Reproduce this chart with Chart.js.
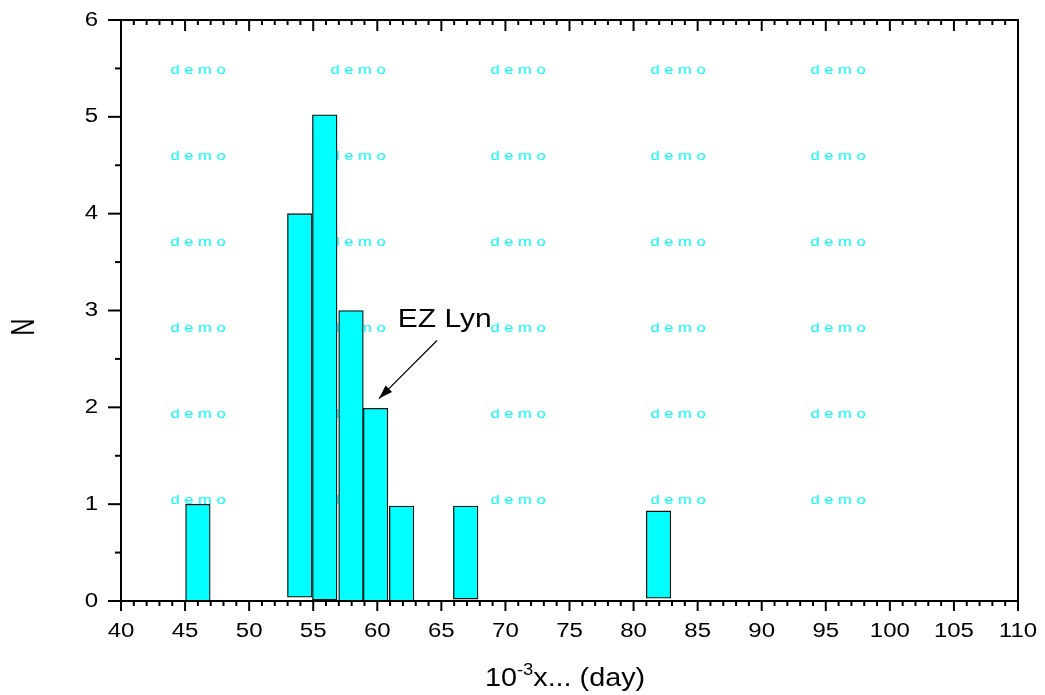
<!DOCTYPE html>
<html>
<head>
<meta charset="utf-8">
<script src="https://cdn.jsdelivr.net/npm/chart.js@4.4.0/dist/chart.umd.min.js"></script>
<style>
  html, body { margin: 0; padding: 0; background: #fff; }
</style>
</head>
<body>
<canvas id="myChart" width="1045" height="695"></canvas>
<script>
// histogram bins (10^-3 x, days) and counts
const binCentres = [46, 53.95, 55.9, 57.95, 59.87, 61.9, 66.9, 81.95];
const binBases   = [0, 0.04, 0.01, -0.01, 0, 0, 0.02, 0.03];
const binCounts  = [1.0, 4.0, 5.02, 3.0, 1.99, 0.98, 0.98, 0.93];

const xTickValues = [40, 45, 50, 55, 60, 65, 70, 75, 80, 85, 90, 95, 100, 105, 110];
const yTickValues = [0, 1, 2, 3, 4, 5, 6];

// annotation, in data units
const noteText  = 'EZ Lyn';
const noteAt    = [61.6, 2.83];
const arrowFrom = [64.66, 2.69];
const arrowTo   = [60.13, 2.09];

const FONT = '"Liberation Sans", Arial, sans-serif';

// the original text is drawn a bit wide, so stretch it horizontally
function wideText(ctx, str, x, y, size, sx, align, baseline) {
    ctx.save();
    ctx.font = size + 'px ' + FONT;
    ctx.textAlign = align;
    ctx.textBaseline = baseline;
    ctx.fillStyle = '#000';
    ctx.translate(x, y);
    ctx.scale(sx, 1);
    ctx.fillText(str, 0, 0);
    ctx.restore();
}

function line(ctx, x1, y1, x2, y2) {
    ctx.beginPath();
    ctx.moveTo(x1, y1);
    ctx.lineTo(x2, y2);
    ctx.stroke();
}

// "demo" watermark grid behind the bars
const watermark = {
    id: 'watermark',
    beforeDatasetsDraw(chart) {
        const { ctx, chartArea: a } = chart;
        ctx.save();
        ctx.font = '12px ' + FONT;
        ctx.fillStyle = '#00ffff';
        ctx.textAlign = 'center';
        ctx.textBaseline = 'middle';
        for (let i = 0; i < 5; i++) {
            for (let j = 0; j < 6; j++) {
                ctx.save();
                ctx.translate(a.left + 77 + 160 * i, a.top + 51 + 86 * j);
                ctx.scale(1.38, 1);
                ctx.fillText('d e m o', 0, 0);
                ctx.restore();
            }
        }
        ctx.restore();
    }
};

// frame, major/minor ticks, labels, titles and the arrow note
const frame = {
    id: 'frame',
    afterDraw(chart) {
        const { ctx, chartArea: a, scales: { x, y } } = chart;
        ctx.save();
        ctx.strokeStyle = '#000';
        ctx.lineWidth = 2;
        ctx.strokeRect(a.left, a.top, a.right - a.left, a.bottom - a.top);

        for (let v = x.min; v <= x.max; v++) {
            const px = x.getPixelForValue(v);
            const major = v % 5 === 0;
            line(ctx, px, a.bottom, px, a.bottom + (major ? 10 : 5));
            line(ctx, px, a.top, px, a.top + (major ? 11 : 5));
        }
        for (let v = y.min; v <= y.max; v += 0.5) {
            const py = y.getPixelForValue(v);
            const major = v % 1 === 0;
            line(ctx, a.left - (major ? 13 : 6), py, a.left, py);
        }

        x.ticks.forEach(t => wideText(ctx, String(t.value), x.getPixelForValue(t.value), a.bottom + 30, 20, 1.2, 'center', 'middle'));
        y.ticks.forEach(t => wideText(ctx, String(t.value), a.left - 23, y.getPixelForValue(t.value), 20, 1.2, 'right', 'middle'));

        // y title, rotated
        ctx.save();
        ctx.translate(25, 327);
        ctx.scale(1.35, 1);
        ctx.rotate(-Math.PI / 2);
        ctx.font = '24px ' + FONT;
        ctx.fillStyle = '#000';
        ctx.textAlign = 'center';
        ctx.textBaseline = 'middle';
        ctx.fillText('N', 0, 0);
        ctx.restore();

        // x title with superscript
        const sx = 1.15;
        const base = 686;
        ctx.font = '25px ' + FONT;
        const w1 = ctx.measureText('10').width * sx;
        const w3 = ctx.measureText('x... (day)').width * sx;
        ctx.font = '16px ' + FONT;
        const w2 = ctx.measureText('-3').width * sx;
        let left = 565 - (w1 + w2 + w3) / 2;
        wideText(ctx, '10', left, base, 25, sx, 'left', 'alphabetic');
        left += w1;
        wideText(ctx, '-3', left, base - 11, 16, sx, 'left', 'alphabetic');
        left += w2;
        wideText(ctx, 'x... (day)', left, base, 25, sx, 'left', 'alphabetic');

        // note + arrow
        wideText(ctx, noteText, x.getPixelForValue(noteAt[0]), y.getPixelForValue(noteAt[1]), 25, 1.2, 'left', 'alphabetic');
        const x1 = x.getPixelForValue(arrowFrom[0]), y1 = y.getPixelForValue(arrowFrom[1]);
        const x2 = x.getPixelForValue(arrowTo[0]), y2 = y.getPixelForValue(arrowTo[1]);
        ctx.lineWidth = 1.2;
        line(ctx, x1, y1, x2, y2);
        const ang = Math.atan2(y2 - y1, x2 - x1);
        ctx.beginPath();
        ctx.moveTo(x2, y2);
        ctx.lineTo(x2 - 14 * Math.cos(ang) + 4.5 * Math.sin(ang), y2 - 14 * Math.sin(ang) - 4.5 * Math.cos(ang));
        ctx.lineTo(x2 - 14 * Math.cos(ang) - 4.5 * Math.sin(ang), y2 - 14 * Math.sin(ang) + 4.5 * Math.cos(ang));
        ctx.closePath();
        ctx.fillStyle = '#000';
        ctx.fill();
        ctx.restore();
    }
};

const config = {
    type: 'bar',
    data: {
        datasets: [{
            data: binCentres.map((c, i) => ({ x: c, y: [binBases[i], binCounts[i]] })),
            backgroundColor: '#00ffff',
            borderColor: '#111',
            borderWidth: 1.3,
            borderSkipped: false,
            barPercentage: 1,
            categoryPercentage: 1
        }]
    },
    options: {
        responsive: false,
        animation: false,
        layout: { padding: { top: 20, right: 27, left: 0, bottom: 0 } },
        plugins: {
            legend: { display: false },
            tooltip: { enabled: false }
        },
        scales: {
            x: {
                type: 'linear',
                min: 40,
                max: 110,
                offset: false,
                grid: { display: false, offset: false, drawTicks: false },
                border: { display: false },
                ticks: { display: false },
                afterBuildTicks: s => { s.ticks = xTickValues.map(v => ({ value: v })); },
                afterFit: s => { s.height = 94; }
            },
            y: {
                min: 0,
                max: 6,
                grid: { display: false, drawTicks: false },
                border: { display: false },
                ticks: { display: false },
                afterBuildTicks: s => { s.ticks = yTickValues.map(v => ({ value: v })); },
                afterFit: s => { s.width = 121; }
            }
        }
    },
    plugins: [watermark, frame]
};

var myChart = new Chart(document.getElementById('myChart'), config);
</script>
</body>
</html>
